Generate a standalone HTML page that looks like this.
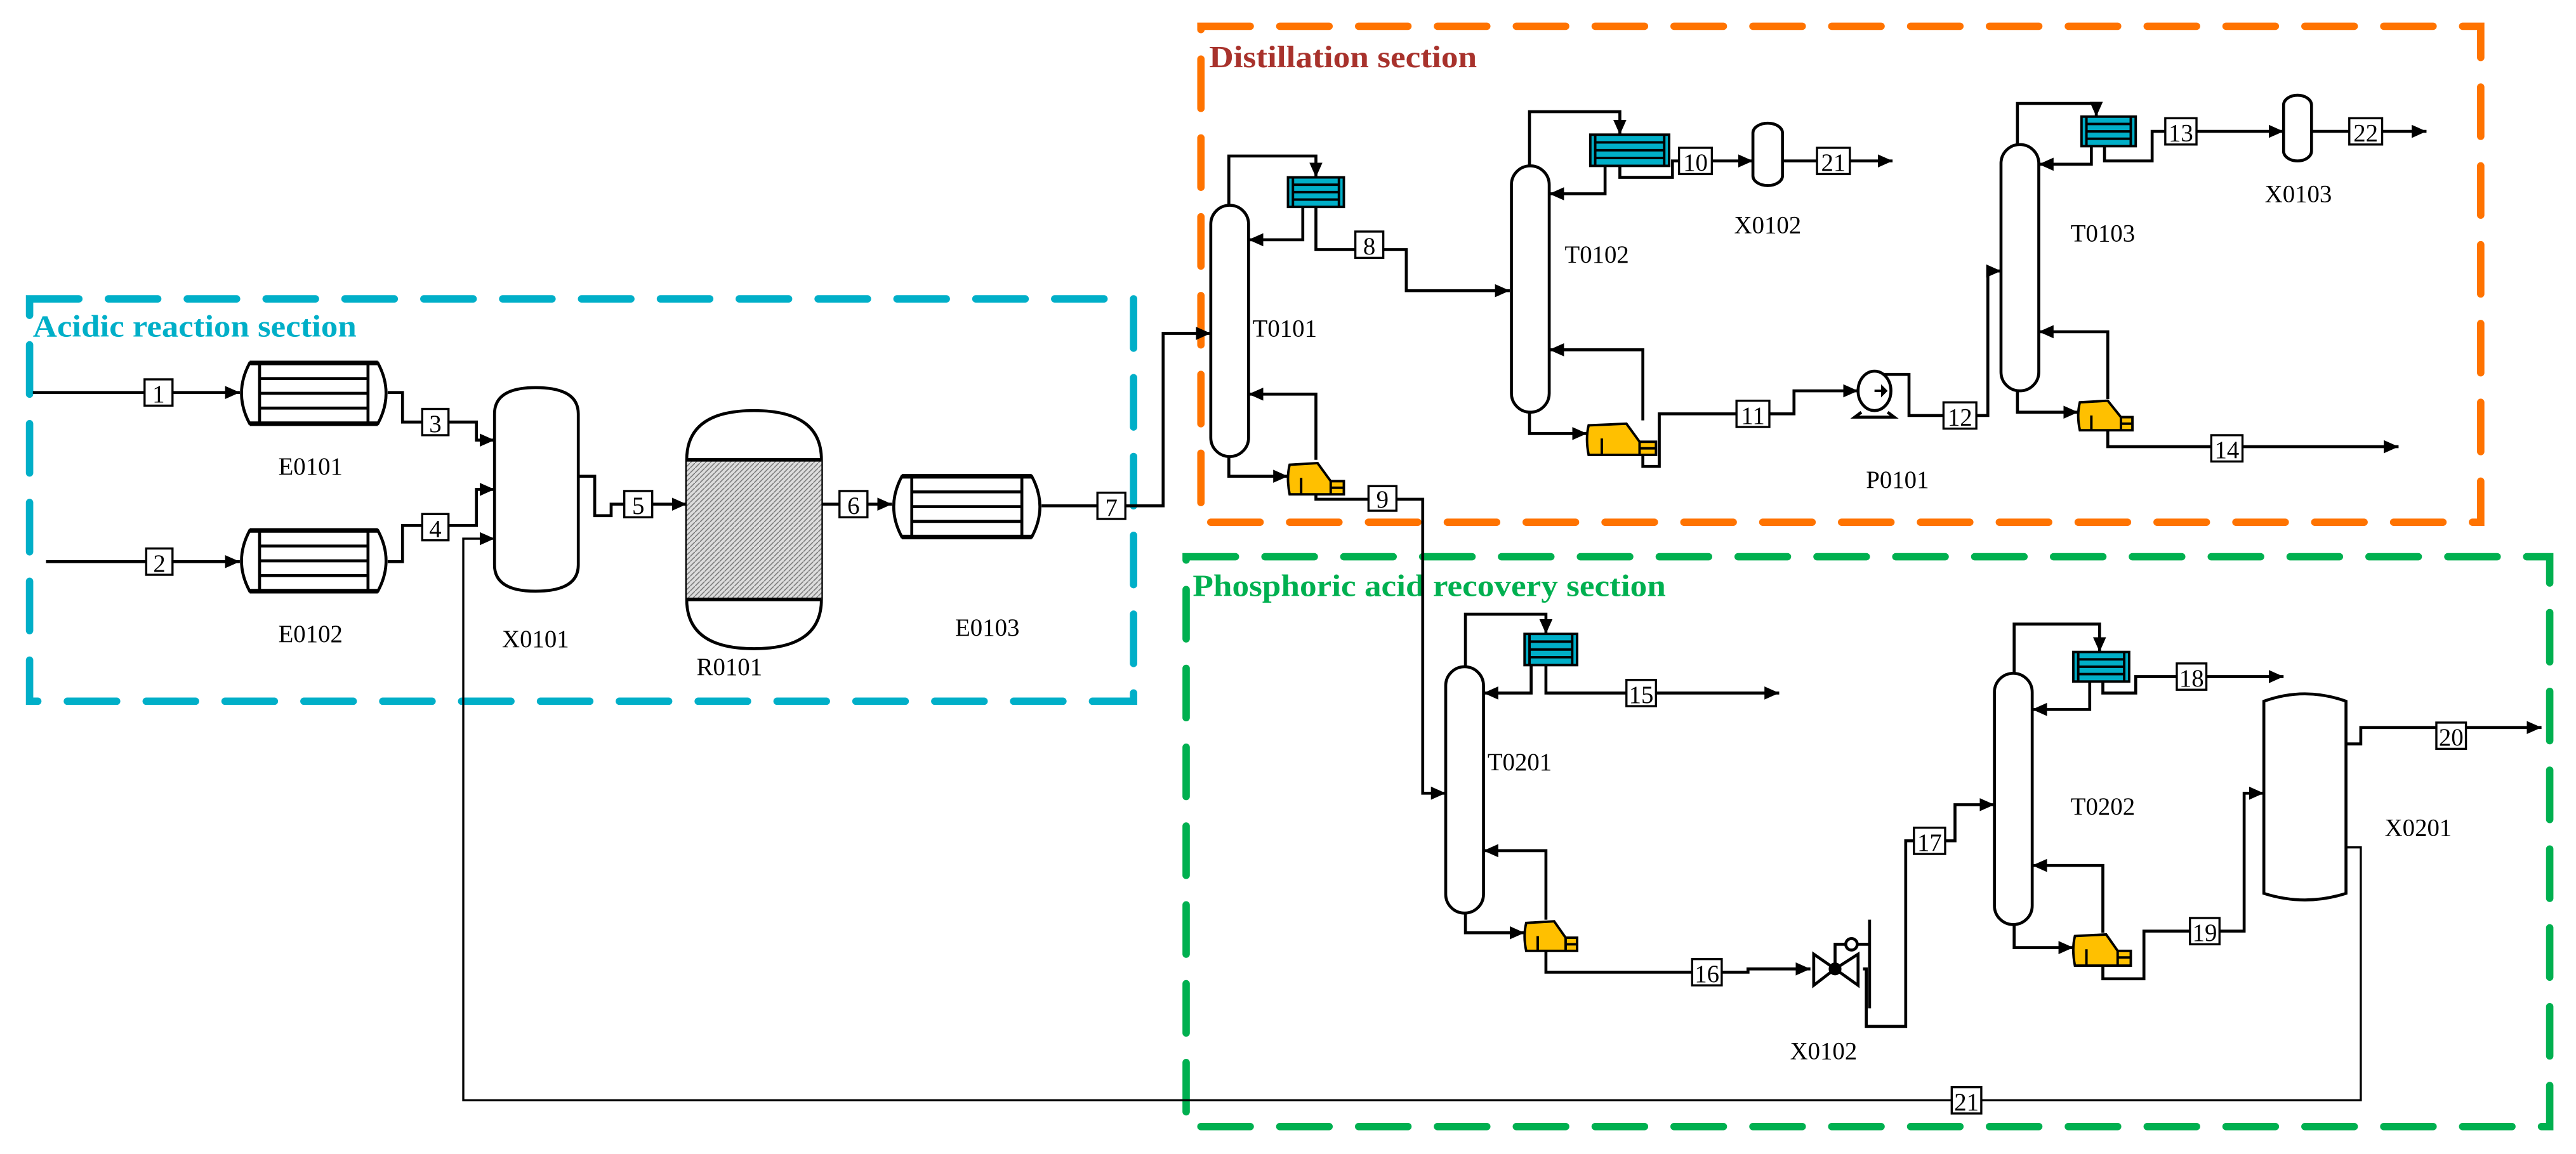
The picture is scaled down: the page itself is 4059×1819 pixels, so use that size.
<!DOCTYPE html>
<html><head><meta charset="utf-8"><style>
html,body{margin:0;padding:0;background:#fff;}
svg{display:block;}
text{font-family:"Liberation Serif",serif;}
</style></head><body>
<svg width="4059" height="1819" viewBox="0 0 1568 702.7" preserveAspectRatio="none" xmlns="http://www.w3.org/2000/svg">
<defs>
<marker id="a" markerUnits="userSpaceOnUse" markerWidth="10" markerHeight="10" refX="9" refY="5" orient="auto"><path d="M0,1 L9,5 L0,9 Z" fill="#000"/></marker>
<pattern id="h" width="3" height="3" patternUnits="userSpaceOnUse"><rect width="3" height="3" fill="#ddd"/><path d="M0,3 L3,0" stroke="#777" stroke-width="0.6"/></pattern>
</defs>
<rect width="1568" height="703" fill="#fff"/>
<!-- section boxes -->
<g fill="none" stroke-width="4.5" stroke-linecap="round" stroke-dasharray="30 18">
<rect x="18" y="182" width="672" height="245" stroke="#00afc8"/>
<rect x="731" y="16" width="779" height="302" stroke="#ff7300"/>
<rect x="722" y="339" width="830" height="347" stroke="#00b050"/>
</g>
<text x="20" y="205" font-size="19" font-weight="bold" fill="#00afc8" textLength="197" lengthAdjust="spacingAndGlyphs">Acidic reaction section</text>
<text x="736" y="41" font-size="19" font-weight="bold" fill="#a8322c" textLength="163" lengthAdjust="spacingAndGlyphs">Distillation section</text>
<text x="726" y="363" font-size="19" font-weight="bold" fill="#00b050" textLength="288" lengthAdjust="spacingAndGlyphs">Phosphoric acid recovery section</text>

<!-- streams -->
<g fill="none" stroke="#000" stroke-width="1.8">
<path d="M20,239 H146" marker-end="url(#a)"/>
<path d="M28,342 H146" marker-end="url(#a)"/>
<path d="M236,239 H245 V257 H290 V268 H301" marker-end="url(#a)"/>
<path d="M236,342 H245 V320 H290 V298 H301" marker-end="url(#a)"/>
<path d="M352,290 H362 V314 H372 V307 H418" marker-end="url(#a)"/>
<path d="M500,307 H543" marker-end="url(#a)"/>
<path d="M634,308 H708 V203 H737" marker-end="url(#a)"/>
<!-- T0101 -->
<path d="M748,125 V95 H801 V108" marker-end="url(#a)"/>
<path d="M793,126 V146 H760" marker-end="url(#a)"/>
<path d="M801,126 V152 H856 V177 H919" marker-end="url(#a)"/>
<path d="M748,278 V290 H784" marker-end="url(#a)"/>
<path d="M801,280 V240 H760" marker-end="url(#a)"/>
<path d="M801,300 V304 H866 V483 H880" marker-end="url(#a)"/>
<!-- T0102 -->
<path d="M931,101 V68 H986 V82" marker-end="url(#a)"/>
<path d="M977,101 V118 H943" marker-end="url(#a)"/>
<path d="M986,101 V108 H1018 V98 H1067" marker-end="url(#a)"/>
<path d="M1085,98 H1152" marker-end="url(#a)"/>
<path d="M931,251 V264 H966" marker-end="url(#a)"/>
<path d="M1000,256 V213 H943" marker-end="url(#a)"/>
<path d="M1000,277 V284 H1010 V252 H1092 V238 H1131" marker-end="url(#a)"/>
<!-- pump out -->
<path d="M1141,228 H1162 V253 H1210 V165 H1218" marker-end="url(#a)"/>
<!-- T0103 -->
<path d="M1228,88 V63 H1276 V71" marker-end="url(#a)"/>
<path d="M1273,89 V100 H1241" marker-end="url(#a)"/>
<path d="M1281,89 V98 H1310 V80 H1390" marker-end="url(#a)"/>
<path d="M1407,80 H1477" marker-end="url(#a)"/>
<path d="M1228,238 V251 H1265" marker-end="url(#a)"/>
<path d="M1283,243 V202 H1241" marker-end="url(#a)"/>
<path d="M1283,262 V272 H1460" marker-end="url(#a)"/>
<!-- T0201 -->
<path d="M892,406 V374 H941 V386" marker-end="url(#a)"/>
<path d="M932,405 V422 H903" marker-end="url(#a)"/>
<path d="M941,405 V422 H1083" marker-end="url(#a)"/>
<path d="M892,556 V568 H928" marker-end="url(#a)"/>
<path d="M941,560 V518 H903" marker-end="url(#a)"/>
<path d="M941,579 V592 H1064 V590 H1102" marker-end="url(#a)"/>
<!-- valve out -->
<path d="M1134,590 H1136 V625 H1160 V512 H1190 V490 H1214" marker-end="url(#a)"/>
<!-- T0202 -->
<path d="M1226,410 V380 H1278 V397" marker-end="url(#a)"/>
<path d="M1272,415 V432 H1237" marker-end="url(#a)"/>
<path d="M1280,415 V422 H1300 V412 H1390" marker-end="url(#a)"/>
<path d="M1226,563 V577 H1262" marker-end="url(#a)"/>
<path d="M1280,568 V527 H1237" marker-end="url(#a)"/>
<path d="M1280,588 V596 H1305 V567 H1366 V483 H1378" marker-end="url(#a)"/>
<!-- X0201 -->
<path d="M1428,453 H1437 V443 H1547" marker-end="url(#a)"/>
</g>
<path d="M1428,516 H1437 V670 H282 V328 H301" fill="none" stroke="#000" stroke-width="1.3" marker-end="url(#a)"/>

<!-- heat exchangers -->
<g fill="#fff" stroke="#000" stroke-width="1.8">
<g transform="translate(146,221)"><path d="M6,0 H84 Q94,18.5 84,37 H6 Q-4,18.5 6,0 Z"/><path d="M12,0 V37 M78,0 V37 M12,9.5 H78 M12,18.5 H78 M12,27.5 H78" /><path d="M6,0 H84 M6,37 H84" stroke-width="2.8"/></g>
<g transform="translate(146,323)"><path d="M6,0 H84 Q94,18.5 84,37 H6 Q-4,18.5 6,0 Z"/><path d="M12,0 V37 M78,0 V37 M12,9.5 H78 M12,18.5 H78 M12,27.5 H78" /><path d="M6,0 H84 M6,37 H84" stroke-width="2.8"/></g>
<g transform="translate(543,290)"><path d="M6,0 H85 Q95,18.5 85,37 H6 Q-4,18.5 6,0 Z"/><path d="M12,0 V37 M79,0 V37 M12,9.5 H79 M12,18.5 H79 M12,27.5 H79" /><path d="M6,0 H85 M6,37 H85" stroke-width="2.8"/></g>
<!-- X0101 -->
<path d="M301,252 Q301,236 326,236 Q352,236 352,252 V344 Q352,360 326,360 Q301,360 301,344 Z"/>
<!-- R0101 -->
<path d="M418,280 Q418,250 459,250 Q500,250 500,280 V365 Q500,395 459,395 Q418,395 418,365 Z"/>
<rect x="418" y="280" width="82" height="85" fill="url(#h)" stroke="none"/>
<path d="M418,280 H500 M418,365 H500" stroke-width="2.2"/>
<!-- columns -->
<rect x="737" y="125" width="23" height="153" rx="11.5"/>
<rect x="920" y="101" width="23" height="150" rx="11.5"/>
<rect x="1218" y="88" width="23" height="150" rx="11.5"/>
<rect x="880" y="406" width="23" height="150" rx="11.5"/>
<rect x="1214" y="410" width="23" height="153" rx="11.5"/>
<!-- small drums -->
<rect x="1067" y="75" width="18" height="38" rx="9" ry="6"/>
<rect x="1390" y="58" width="17" height="40" rx="8.5" ry="6"/>
<!-- X0201 -->
<path d="M1378,427 Q1403,418 1428,427 V544 Q1403,552 1378,544 Z"/>
<!-- pump -->
<ellipse cx="1141" cy="238" rx="10" ry="12"/>
<path d="M1133,251 L1129,254 H1153 L1149,251" fill="none"/>
</g>
<path d="M1141,238 H1147" stroke="#000" stroke-width="1.5"/><path d="M1145,234 L1149,238 L1145,242 Z"/>

<!-- condensers -->
<g stroke="#000" stroke-width="1.5">
<g transform="translate(784,108)"><rect width="34" height="18" fill="#00afc8"/><path d="M3,0 V18 M31,0 V18 M3,4.5 H31 M3,9 H31 M3,13.5 H31" fill="none"/></g>
<g transform="translate(968,82)"><rect width="48" height="19" fill="#00afc8"/><path d="M3,0 V19 M45,0 V19 M3,4.7 H45 M3,9.5 H45 M3,14.2 H45" fill="none"/></g>
<g transform="translate(1267,71)"><rect width="33" height="18" fill="#00afc8"/><path d="M3,0 V18 M30,0 V18 M3,4.5 H30 M3,9 H30 M3,13.5 H30" fill="none"/></g>
<g transform="translate(928,386)"><rect width="32" height="19" fill="#00afc8"/><path d="M3,0 V19 M29,0 V19 M3,4.7 H29 M3,9.5 H29 M3,14.2 H29" fill="none"/></g>
<g transform="translate(1262,397)"><rect width="34" height="18" fill="#00afc8"/><path d="M3,0 V18 M31,0 V18 M3,4.5 H31 M3,9 H31 M3,13.5 H31" fill="none"/></g>
</g>
<!-- reboilers -->
<g fill="#ffc000" stroke="#000" stroke-width="1.5">
<g transform="translate(784,281)"><path d="M1,2 L18,1 L26,12 H34 V20 H1 Q-1,10 1,2 Z"/><path d="M8,10 V20 M26,12 V20 M26,16 H34" fill="none"/></g>
<g transform="translate(966,257)"><path d="M1,2 L24,1 L32,12 H42 V20 H1 Q-1,10 1,2 Z"/><path d="M9,10 V20 M32,12 V20 M32,16 H42" fill="none"/></g>
<g transform="translate(1265,243)"><path d="M1,2 L18,1 L26,11 H33 V19 H1 Q-1,10 1,2 Z"/><path d="M8,10 V19 M26,11 V19 M26,15 H33" fill="none"/></g>
<g transform="translate(928,560)"><path d="M1,2 L18,1 L25,11 H32 V19 H1 Q-1,10 1,2 Z"/><path d="M8,10 V19 M25,11 V19 M25,15 H32" fill="none"/></g>
<g transform="translate(1262,568)"><path d="M1,2 L20,1 L27,11 H35 V20 H1 Q-1,10 1,2 Z"/><path d="M8,10 V20 M27,11 V20 M27,15 H35" fill="none"/></g>
</g>
<!-- valve -->
<g stroke="#000" stroke-width="1.8" fill="#fff">
<path d="M1104,581 L1117,590 L1104,600 Z M1131,581 L1117,590 L1131,600 Z"/>
<path d="M1117,590 V575 H1138 M1138,560 V614" fill="none"/>
<circle cx="1127" cy="575" r="3.5"/>
<circle cx="1117" cy="590" r="3" fill="#000"/>
</g>

<!-- stream number boxes -->
<g fill="#fff" stroke="#000" stroke-width="1.3">
<rect x="88" y="231" width="17" height="16"/><rect x="89" y="334" width="16" height="16"/>
<rect x="257" y="249" width="16" height="16"/><rect x="257" y="313" width="16" height="16"/>
<rect x="380" y="299" width="17" height="16"/><rect x="511" y="299" width="17" height="16"/>
<rect x="668" y="300" width="17" height="16"/><rect x="825" y="141" width="17" height="16"/>
<rect x="833" y="296" width="17" height="15"/><rect x="1022" y="90" width="20" height="16"/>
<rect x="1106" y="90" width="20" height="16"/><rect x="1057" y="244" width="20" height="16"/>
<rect x="1183" y="245" width="20" height="16"/><rect x="1318" y="72" width="19" height="16"/>
<rect x="1430" y="72" width="20" height="16"/><rect x="1346" y="265" width="19" height="16"/>
<rect x="990" y="414" width="18" height="16"/><rect x="1030" y="584" width="18" height="16"/>
<rect x="1165" y="504" width="19" height="16"/><rect x="1325" y="404" width="18" height="16"/>
<rect x="1333" y="559" width="18" height="16"/><rect x="1483" y="440" width="18" height="16"/>
<rect x="1188" y="662" width="18" height="16"/>
</g>
<g font-size="15" text-anchor="middle" fill="#000">
<text x="96.5" y="245">1</text><text x="97" y="348">2</text>
<text x="265" y="263">3</text><text x="265" y="327">4</text>
<text x="388.5" y="313">5</text><text x="519.5" y="313">6</text>
<text x="676.5" y="314">7</text><text x="833.5" y="155">8</text>
<text x="841.5" y="309">9</text><text x="1032" y="104">10</text>
<text x="1116" y="104">21</text><text x="1067" y="258">11</text>
<text x="1193" y="259">12</text><text x="1327.5" y="86">13</text>
<text x="1440" y="86">22</text><text x="1355.5" y="279">14</text>
<text x="999" y="428">15</text><text x="1039" y="598">16</text>
<text x="1174.5" y="518">17</text><text x="1334" y="418">18</text>
<text x="1342" y="573">19</text><text x="1492" y="454">20</text>
<text x="1197" y="676">21</text>
</g>
<!-- equipment labels -->
<g font-size="15" text-anchor="middle" fill="#000">
<text x="189" y="289">E0101</text><text x="189" y="391">E0102</text>
<text x="326" y="394">X0101</text><text x="444" y="411">R0101</text>
<text x="601" y="387">E0103</text><text x="782" y="205">T0101</text>
<text x="972" y="160">T0102</text><text x="1076" y="142">X0102</text>
<text x="1155" y="297">P0101</text><text x="1280" y="147">T0103</text>
<text x="1399" y="123">X0103</text><text x="925" y="469">T0201</text>
<text x="1110" y="645">X0102</text><text x="1280" y="496">T0202</text>
<text x="1472" y="509">X0201</text>
</g>
</svg>
</body></html>
